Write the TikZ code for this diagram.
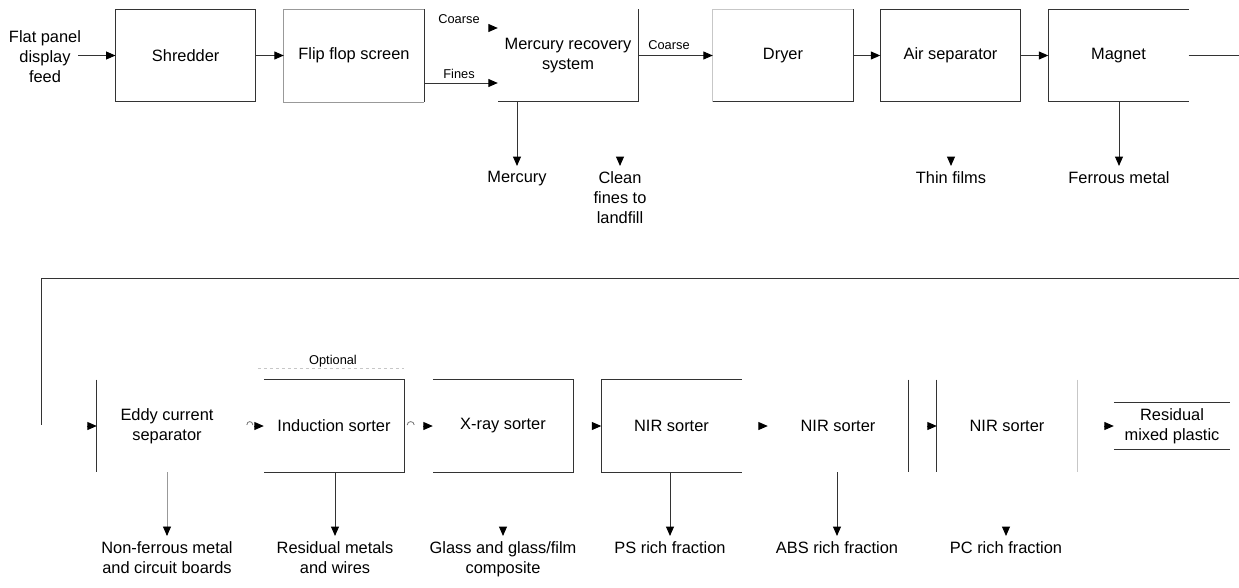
\documentclass[tikz,border=0pt]{standalone}
\usepackage{fontspec}
\setmainfont{Liberation Sans}
\usetikzlibrary{arrows.meta,calc}
\begin{document}
\begin{tikzpicture}[x=1pt,y=-1pt,
  every node/.style={font=\fontsize{16.4}{20}\selectfont, text=black},
  box/.style={minimum width=140pt, minimum height=92.5pt, inner sep=0pt, align=center},
  ln/.style={draw=black!80, line width=1pt},
  lt/.style={draw=black!40, line width=0.9pt},
  faint/.style={draw=black!22, line width=0.8pt},
  arr/.style={ln, -{Triangle[length=9.5pt,width=8pt,color=black]}},
  larr/.style={lt, -{Triangle[length=9.5pt,width=8pt,color=black]}},
  lab/.style={anchor=north, inner xsep=0pt, inner ysep=5pt, align=center},
  small/.style={font=\fontsize{12.8}{15}\selectfont, inner sep=0pt}]
\useasboundingbox (0,0) rectangle (1239,587);

% ---------- top row ----------
\node[inner sep=0pt, align=center] (feed) at (45,56.5) {Flat panel\\display\\feed};
\node[box] (shred)  at (185.7,55.5) {Shredder};
\node[box] (flip)   at (354,55.5)   {Flip flop screen};
\node[box] (merc)   at (568,55.5)   {Mercury recovery\\system};
\node[box] (dryer)  at (783,55.5)   {Dryer};
\node[box] (air)    at (950.5,55.5) {Air separator};
\node[box] (magnet) at (1118.5,55.5){Magnet};

\draw[ln] (shred.north west) rectangle (shred.south east);
\draw[lt] (flip.north east) -- (flip.north west) -- (flip.south west) -- (flip.south east);
\draw[ln] (flip.north east) -- (flip.south east);
\draw[ln] (merc.north east) -- (merc.south east) -- (merc.south west);
\draw[faint] (dryer.south west) -- (dryer.north west) -- (dryer.north east);
\draw[ln] (dryer.north east) -- (dryer.south east) -- (dryer.south west);
\draw[ln] (air.north west) rectangle (air.south east);
\draw[ln] (magnet.north east) -- (magnet.north west) -- (magnet.south west) -- (magnet.south east);

\node[small] (lcoarsea) at (459,19) {Coarse};
\node[small] (lfines)   at (459,74) {Fines};
\node[small] (lcoarseb) at (669,45) {Coarse};

\draw[arr] (feed.east |- shred.west) ++(-3,0) -- (shred.west);
\draw[arr] (shred.east) -- (flip.west);
\coordinate (cin) at (489,28);
\draw[arr] (cin) -- (cin -| merc.west);
\coordinate (fin) at (424,83);
\draw[arr] (fin -| flip.east) -- (fin -| merc.west);
\draw[arr] (merc.east) -- (dryer.west);
\draw[arr] (dryer.east) -- (air.west);
\draw[arr] (air.east) -- (magnet.west);

\node[lab] (lmerc)  at (517,166) {Mercury};
\node[lab] (lclean) at (620,166) {Clean\\fines to\\landfill};
\node[lab] (lthin)  at (951,166) {Thin films};
\node[lab] (lferr)  at (1119,166) {Ferrous metal};

\draw[arr] (merc.south -| lmerc.north) -- (lmerc.north);
\draw[arr] ($(lclean.north)+(0,-8)$) -- (lclean.north);
\draw[arr] ($(lthin.north)+(0,-8)$) -- (lthin.north);
\draw[arr] (magnet.south -| lferr.north) -- (lferr.north);

% loop to second row
\coordinate (rout) at (1239,56);
\coordinate (rin) at (1239,278);
\coordinate (lcorner) at (41,278);
\coordinate (ldown) at (41,425);
\draw[ln] (magnet.east) -- (magnet.east -| rout);
\draw[ln] (rin) -- (lcorner) -- (ldown);

% ---------- bottom row ----------
\node[box] (eddy) at (167,426)   {Eddy current\\separator};
\node[box] (ind)  at (334,426)   {Induction sorter};
\node[box] (xray) at (503,426)   {X-ray sorter};
\node[box] (nira) at (671.5,426) {NIR sorter};
\node[box] (nirb) at (838,426)   {NIR sorter};
\node[box] (nirc) at (1007,426)  {NIR sorter};
\node[box, minimum width=116pt, minimum height=46pt] (resid) at (1172,426) {Residual\\mixed plastic};

\draw[ln] (eddy.north west) -- (eddy.south west);
\draw[ln] (ind.north west) -- (ind.north east) -- (ind.south east) -- (ind.south west);
\draw[ln] (xray.north west) -- (xray.north east) -- (xray.south east) -- (xray.south west);
\draw[ln] (nira.north east) -- (nira.north west) -- (nira.south west) -- (nira.south east);
\draw[ln] (nirb.north east) -- (nirb.south east);
\draw[ln] (nirc.north west) -- (nirc.south west);
\draw[faint] (nirc.north east) -- (nirc.south east);
\draw[ln] (resid.north west) -- (resid.north east);
\draw[ln] (resid.south west) -- (resid.south east);

\node[small] (lopt) at (333,361) {Optional};
\draw[faint, dashed] ($(ind.north west)+(-6,-11.5)$) -- ($(ind.north east)+(0,-11.5)$);

% hops and arrowheads between sorters
\draw[arr] ($(eddy.west)+(-10,0)$) -- (eddy.west);
\draw[draw=black!55, line width=0.8pt] ($(ind.west)+(-17,-1)$) .. controls +(0,-4.5) and +(0,-4.5) .. ($(ind.west)+(-11,-1)$);
\draw[arr] ($(ind.west)+(-9.5,0)$) -- (ind.west);
\draw[draw=black!55, line width=0.8pt] ($(ind.east)+(3,-1)$) .. controls +(0,-4.5) and +(0,-4.5) .. ($(ind.east)+(10,-1)$);
\draw[arr] ($(xray.west)+(-9.5,0)$) -- (xray.west);
\draw[arr] ($(nira.west)+(-9.5,0)$) -- (nira.west);
\draw[arr] ($(nirb.west)+(-9,0)$) -- (nirb.west);
\draw[arr] ($(nirc.west)+(-10,0)$) -- (nirc.west);
\draw[arr] ($(resid.west)+(-9.5,0)$) -- (resid.west);

\node[lab] (lnonf)  at (167,536) {Non-ferrous metal\\and circuit boards};
\node[lab] (lresm)  at (335,536) {Residual metals\\and wires};
\node[lab] (lglass) at (503,536) {Glass and glass/film\\composite};
\node[lab] (lps)    at (670,536) {PS rich fraction};
\node[lab] (labs)   at (837,536) {ABS rich fraction};
\node[lab] (lpc)    at (1006,536) {PC rich fraction};

\draw[larr] (eddy.south -| lnonf.north) -- (lnonf.north);
\draw[arr] (ind.south -| lresm.north) -- (lresm.north);
\draw[arr] ($(lglass.north)+(0,-8)$) -- (lglass.north);
\draw[arr] (nira.south -| lps.north) -- (lps.north);
\draw[arr] (nirb.south -| labs.north) -- (labs.north);
\draw[arr] ($(lpc.north)+(0,-8)$) -- (lpc.north);
\end{tikzpicture}
\end{document}
